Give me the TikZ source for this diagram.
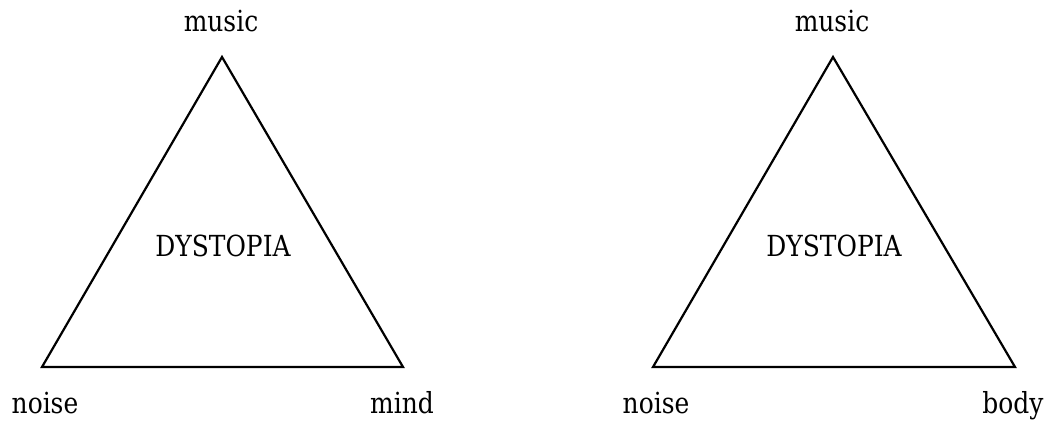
\documentclass[tikz,border=0pt]{standalone}
\usepackage{fontspec}
\setmainfont{DejaVu Serif}[FakeStretch=0.86]
\begin{document}
\begin{tikzpicture}[x=1pt,y=-1pt,
  lbl/.style={anchor=base,inner sep=0pt,font=\fontsize{29}{35}\selectfont,text=black},
  tri/.style={draw=black,line width=2.2pt,line join=miter}]
\useasboundingbox (0,0) rectangle (1049,421);
% left triangle
\coordinate (LA) at (222,57);
\coordinate (LB) at (42,367);
\coordinate (LC) at (403,367);
\draw[tri] (LA) -- (LB) -- (LC) -- cycle;
\node[lbl] (lmusic) at (221,31) {music};
\node[lbl] (lnoise) at (45,413) {noise};
\node[lbl] (lmind) at (402,413) {mind};
\node[lbl] (ldys) at (223,256) {DYSTOPIA};
% right triangle
\coordinate (RA) at (833,57);
\coordinate (RB) at (653,367);
\coordinate (RC) at (1015,367);
\draw[tri] (RA) -- (RB) -- (RC) -- cycle;
\node[lbl] (rmusic) at (832,31) {music};
\node[lbl] (rnoise) at (656,413) {noise};
\node[lbl] (rbody) at (1013,413) {body};
\node[lbl] (rdys) at (834,256) {DYSTOPIA};
\end{tikzpicture}
\end{document}
